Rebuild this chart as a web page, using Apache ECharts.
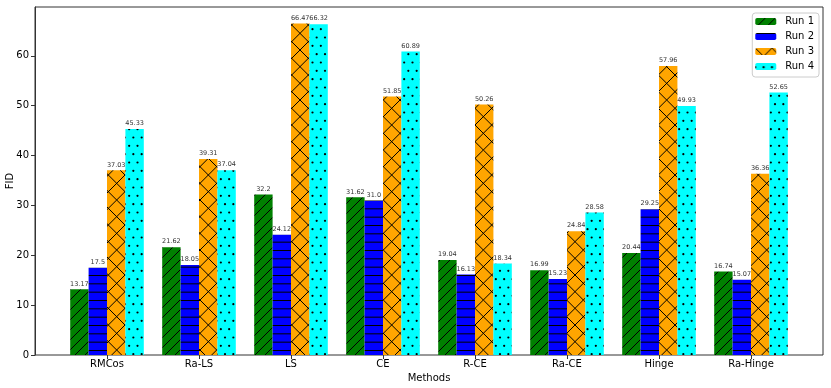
<!DOCTYPE html>
<html>
<head>
<meta charset="utf-8">
<script src="https://cdn.jsdelivr.net/npm/echarts@6/dist/echarts.min.js"></script>
<style>
  html, body { margin: 0; padding: 0; background: #fff; }
</style>
</head>
<body>
<div id="MyChart" style="width: 831px;height:388px;"></div>
<script>
// 各方法四次运行的 FID
const categories = ['RMCos', 'Ra-LS', 'LS', 'CE', 'R-CE', 'Ra-CE', 'Hinge', 'Ra-Hinge']
const run1 = [13.17, 21.62, 32.2, 31.62, 19.04, 16.99, 20.44, 16.74]
const run2 = [17.5, 18.05, 24.12, 31.0, 16.13, 15.23, 29.25, 15.07]
const run3 = [37.03, 39.31, 66.47, 51.85, 50.26, 24.84, 57.96, 36.36]
const run4 = [45.33, 37.04, 66.32, 60.89, 18.34, 28.58, 49.93, 52.65]
const seriesNames = ['Run 1', 'Run 2', 'Run 3', 'Run 4']
const yMax = 69.79

// 填充纹理 (模仿 matplotlib 的 hatch)
function makePattern(bg, kind) {
  let size = (kind === 'x' || kind === '.') ? 50 : (kind === '/' ? 30 : 25)
  let c = document.createElement('canvas')
  c.width = size
  c.height = size
  let ctx = c.getContext('2d')
  ctx.fillStyle = bg
  ctx.fillRect(0, 0, size, size)
  ctx.strokeStyle = '#000'
  ctx.fillStyle = '#000'
  ctx.lineWidth = 1
  let s = size / 3
  ctx.beginPath()
  if (kind === '/' || kind === 'x') {
    for (let k = -3; k <= 3; k++) {
      ctx.moveTo(k * s, size)
      ctx.lineTo(k * s + size, 0)
    }
  }
  if (kind === 'x') {
    for (let k = -3; k <= 3; k++) {
      ctx.moveTo(k * s, 0)
      ctx.lineTo(k * s + size, size)
    }
  }
  if (kind === '-') {
    for (let k = 0; k < 3; k++) {
      ctx.moveTo(0, k * s + 0.5)
      ctx.lineTo(size, k * s + 0.5)
    }
  }
  ctx.stroke()
  if (kind === '.') {
    let d = size / 6
    for (let r = 0; r < 6; r++) {
      for (let q = 0; q <= 6; q++) {
        let x = q * d + (r % 2 ? d / 2 : 0)
        ctx.beginPath()
        ctx.arc(x, r * d + d / 2, 1.1, 0, Math.PI * 2)
        ctx.fill()
      }
    }
  }
  return { image: c, repeat: 'repeat' }
}

const fills = [
  makePattern('#008000', '/'),
  makePattern('#0000ff', '-'),
  makePattern('#ffa500', 'x'),
  makePattern('#00ffff', '.')
]

function fmt(v) {
  return Number.isInteger(v) ? v.toFixed(1) : String(v)
}

let myChart = echarts.init(document.getElementById('MyChart'), null, { renderer: 'canvas' })
let dataList = [run1, run2, run3, run4]
let series = dataList.map((d, i) => ({
  name: seriesNames[i],
  type: 'bar',
  xAxisIndex: 1,
  yAxisIndex: 1,
  data: d,
  barGap: '0%',
  barCategoryGap: '20%',
  itemStyle: { color: fills[i] },
  label: {
    show: true,
    position: 'top',
    distance: 2,
    fontSize: 6.5,
    fontFamily: 'DejaVu Sans',
    color: '#333',
    formatter: p => fmt(p.value)
  }
}))

let option = {
  animation: false,
  backgroundColor: '#fff',
  textStyle: { fontFamily: 'DejaVu Sans' },
  grid: [
    { left: 35, right: 8, top: 7, bottom: 33, outerBoundsMode: 'none', show: true, borderColor: '#333', borderWidth: 1, backgroundColor: 'transparent' },
    { left: 61, right: 34, top: 7, bottom: 33, outerBoundsMode: 'none' }
  ],
  legend: {
    orient: 'vertical',
    right: 12,
    top: 13,
    itemWidth: 21,
    itemHeight: 7,
    itemGap: 4,
    padding: [3, 5, 5, 3],
    borderColor: '#ccc',
    borderWidth: 1,
    borderRadius: 3,
    textStyle: { fontSize: 10, lineHeight: 11, color: '#000', fontFamily: 'DejaVu Sans', padding: [0, 0, 0, 4] },
    data: seriesNames
  },
  xAxis: [
    { gridIndex: 0, type: 'value', min: 0, max: 1, show: false },
    {
      gridIndex: 1,
      type: 'category',
      data: categories,
      boundaryGap: true,
      name: 'Methods',
      nameLocation: 'middle',
      nameGap: 15,
      nameTextStyle: { fontSize: 10, color: '#000', fontFamily: 'DejaVu Sans' },
      axisLine: { show: false },
      axisTick: { show: true, alignWithLabel: true, length: 4, lineStyle: { color: '#333' } },
      axisLabel: { fontSize: 10, color: '#000', margin: 4, fontFamily: 'DejaVu Sans' }
    }
  ],
  yAxis: [
    {
      gridIndex: 0,
      type: 'value',
      min: 0,
      max: yMax,
      interval: 10,
      name: 'FID',
      nameLocation: 'middle',
      nameGap: 20,
      nameMoveOverlap: false,
      nameTextStyle: { fontSize: 10, color: '#000', fontFamily: 'DejaVu Sans' },
      axisLine: { show: true, lineStyle: { color: '#333' } },
      axisTick: { show: true, length: 4, lineStyle: { color: '#333' } },
      axisLabel: { fontSize: 10, color: '#000', margin: 6, showMaxLabel: false, fontFamily: 'DejaVu Sans' },
      splitLine: { show: false }
    },
    { gridIndex: 1, type: 'value', min: 0, max: yMax, show: false, splitLine: { show: false } }
  ],
  series: series
}
myChart.setOption(option)
</script>
</body>
</html>
